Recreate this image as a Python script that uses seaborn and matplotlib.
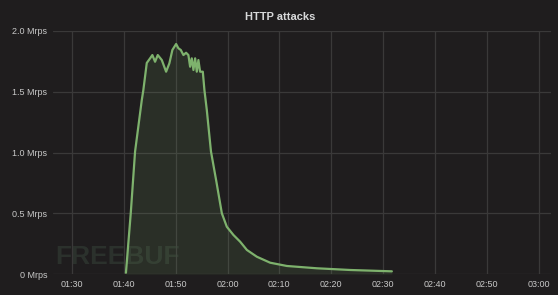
import matplotlib
matplotlib.use("Agg")
import matplotlib.pyplot as plt
import matplotlib.dates as mdates
import seaborn as sns
import pandas as pd
import numpy as np

# minutes after midnight
minutes = [100.4, 101.33, 102.16, 103.46, 103.76, 104.42, 105.06, 105.5, 106.02, 106.54,
           107.32, 108.15, 108.78, 109.36, 110.08, 110.52, 110.98, 111.49, 112.0, 112.45,
           112.78, 113.1, 113.42, 113.75, 114.07, 114.38, 114.71, 115.23, 115.54, 116.0,
           116.8, 117.85, 118.9, 119.86, 121.14, 122.43, 123.73, 125.66, 128.22, 131.45,
           137.24, 143.67, 151.7]
mrps = [0.01, 0.50, 1.007, 1.432, 1.514, 1.737, 1.775, 1.802, 1.747, 1.802,
        1.761, 1.665, 1.734, 1.844, 1.893, 1.858, 1.844, 1.802, 1.821, 1.802,
        1.706, 1.775, 1.679, 1.775, 1.665, 1.761, 1.665, 1.665, 1.514, 1.35,
        1.01, 0.76, 0.50, 0.389, 0.321, 0.266, 0.198, 0.142, 0.093, 0.066,
        0.047, 0.033, 0.022]
y_ticks = [0, 0.5, 1.0, 1.5, 2.0]
y_labels = ["0 Mrps", "0.5 Mrps", "1.0 Mrps", "1.5 Mrps", "2.0 Mrps"]
x_tick_minutes = [90, 100, 110, 120, 130, 140, 150, 160, 170, 180]
title = "HTTP attacks"
watermark = "FREEBUF"

base = pd.Timestamp("2016-01-01")
df = pd.DataFrame({"time": [base + pd.Timedelta(minutes=m) for m in minutes], "rate": mrps})

BG = "#1f1d1e"
sns.set_theme(style="dark")
plt.rcParams["font.family"] = ["Liberation Sans", "DejaVu Sans"]

fig = plt.figure(figsize=(5.58, 2.95), dpi=100, facecolor=BG)
ax = fig.add_axes([53 / 558, 21 / 295, 498 / 558, 243 / 295])
ax.set_facecolor(BG)

# faint watermark (behind the data)
ax.text(0.005, 0.02, watermark, transform=ax.transAxes, ha="left", va="bottom",
        color="#3a4a3f", fontsize=19, fontweight="bold", alpha=0.45, zorder=0)

ax.fill_between(df["time"], df["rate"], 0, color="#7eb26d", alpha=0.12, linewidth=0)
sns.lineplot(data=df, x="time", y="rate", ax=ax, color="#7eb26d", linewidth=1.6)

ax.set_xlim(base + pd.Timedelta(minutes=86.33), base + pd.Timedelta(minutes=182.4))
ax.set_ylim(0, 2.0)
ax.set_yticks(y_ticks)
ax.set_yticklabels(y_labels)
ax.set_xticks([base + pd.Timedelta(minutes=m) for m in x_tick_minutes])
ax.xaxis.set_major_formatter(mdates.DateFormatter("%H:%M"))

ax.grid(True, color="#3a3939", linewidth=0.9)
ax.set_axisbelow(True)
for s in ax.spines.values():
    s.set_visible(False)
ax.tick_params(axis="both", colors="#c8c8c8", labelsize=6.5, length=0, pad=4)
for lbl in ax.get_xticklabels() + ax.get_yticklabels():
    lbl.set_color("#c8c8c8")
ax.set_xlabel("")
ax.set_ylabel("")

fig.text(0.502, 1 - 17 / 295, title, ha="center", va="center", color="#d8d9da",
         fontsize=8, fontweight="bold")

fig.savefig("out.png", dpi=100, facecolor=BG)
